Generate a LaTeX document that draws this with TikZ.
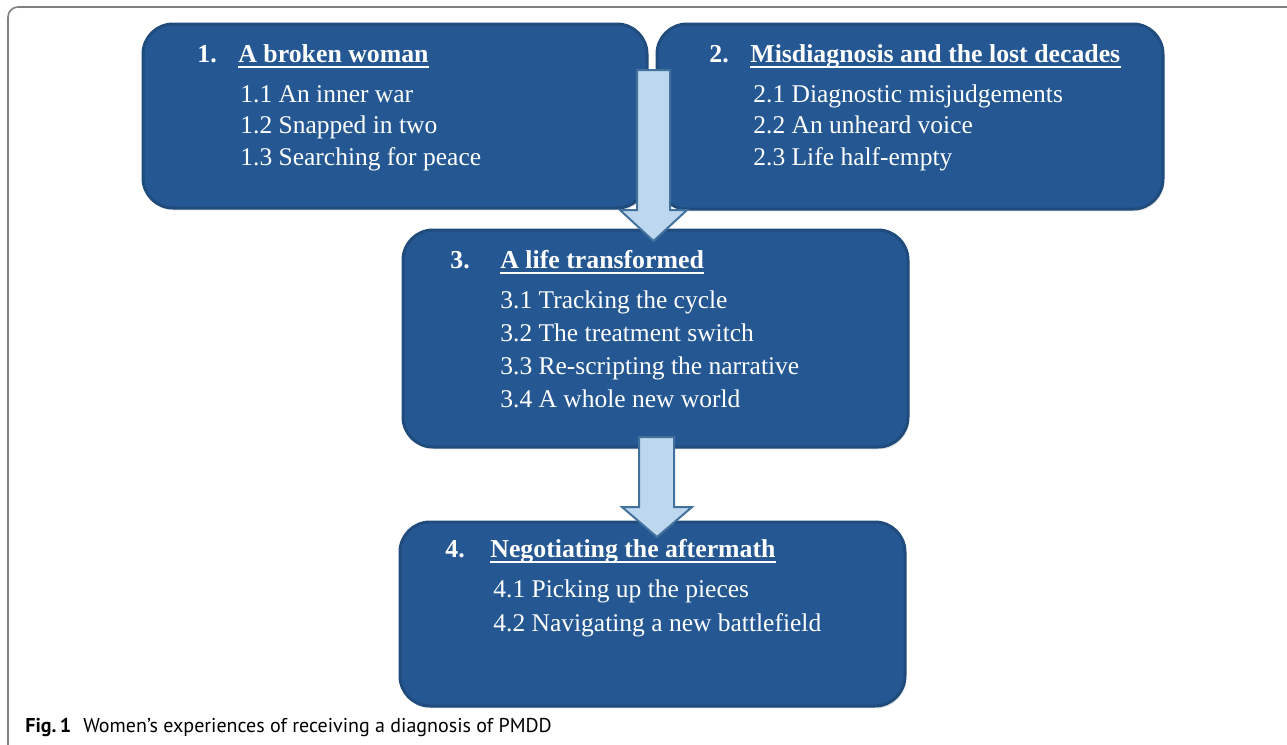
\documentclass[tikz,border=0pt]{standalone}
\usepackage{fontspec}
\setmainfont{Liberation Serif}
\newfontfamily\capfont{PT Sans}
\usetikzlibrary{shadows}
\definecolor{boxfill}{RGB}{37,88,147}
\definecolor{boxline}{RGB}{31,75,125}
\definecolor{arrfill}{RGB}{189,215,238}
\definecolor{arrline}{RGB}{65,113,156}
\definecolor{framegray}{RGB}{128,128,128}
\tikzset{
  box/.style={draw=boxline, fill=boxfill, line width=1.5pt, rounded corners=15pt,
    drop shadow={shadow xshift=0.6pt, shadow yshift=-1.2pt, opacity=0.25}},
  txt/.style={text=white, inner sep=0pt, anchor=base west, font=\fontsize{12.75}{15}\selectfont},
  ttl/.style={txt, font=\fontsize{12.9}{15}\selectfont\bfseries},
  uline/.style={white, line width=1pt},
  blockarrow/.style={draw=arrline, fill=arrfill, line width=1pt, line join=miter},
  captext/.style={inner sep=0pt, anchor=base west, font=\capfont\fontsize{10}{12}\selectfont}
}
\begin{document}
\begin{tikzpicture}[x=0.5pt, y=-0.5pt]
\useasboundingbox (0,0) rectangle (1287,745);
% outer frame
\draw[framegray, line width=0.8pt, rounded corners=5pt] (1295,7) -- (8,7) -- (8,752);

% boxes
\node[box, minimum width=252pt, minimum height=92pt] (b1) at (395,116) {};
\node[box, minimum width=253pt, minimum height=92.5pt] (b2) at (910,116.5) {};
\node[box, minimum width=252.5pt, minimum height=108.5pt] (b3) at (655.5,338.5) {};
\node[box, minimum width=252.5pt, minimum height=92pt] (b4) at (652.5,614) {};

% box 1 text
\node[ttl] (n1) at (197,62) {1.};
\node[ttl] (t1) at (238,62) {A broken woman};
\draw[uline] ([yshift=-2.4pt]t1.base west) -- ([yshift=-2.4pt]t1.base east);
\node[txt] (s11) at (240,102) {1.1 An inner war};
\node[txt] (s12) at (240,133.5) {1.2 Snapped in two};
\node[txt] (s13) at (240,165) {1.3 Searching for peace};

% box 2 text
\node[ttl] (n2) at (709,62) {2.};
\node[ttl] (t2) at (750,62) {Misdiagnosis and the lost decades};
\draw[uline] ([yshift=-2.4pt]t2.base west) -- ([yshift=-2.4pt]t2.base east);
\node[txt] (s21) at (753,102) {2.1 Diagnostic misjudgements};
\node[txt] (s22) at (753,133.5) {2.2 An unheard voice};
\node[txt] (s23) at (753,165) {2.3 Life half-empty};

% box 3 text
\node[ttl] (n3) at (450,268) {3.};
\node[ttl] (t3) at (500,268) {A life transformed};
\draw[uline] ([yshift=-2.4pt]t3.base west) -- ([yshift=-2.4pt]t3.base east);
\node[txt] (s31) at (500,308) {3.1 Tracking the cycle};
\node[txt] (s32) at (500,341) {3.2 The treatment switch};
\node[txt] (s33) at (500,374) {3.3 Re-scripting the narrative};
\node[txt] (s34) at (500,407) {3.4 A whole new world};

% box 4 text
\node[ttl] (n4) at (445,557) {4.};
\node[ttl] (t4) at (490,557) {Negotiating the aftermath};
\draw[uline] ([yshift=-2.6pt]t4.base west) -- ([yshift=-2.6pt]t4.base east);
\node[txt] (s41) at (493,597) {4.1 Picking up the pieces};
\node[txt] (s42) at (493,631) {4.2 Navigating a new battlefield};

% block arrows
\draw[blockarrow] (637,70) -- (670,70) -- (670,210) -- (687,210) -- (653.5,241)
  -- (620,210) -- (637,210) -- cycle;
\draw[blockarrow] (639,437) -- (674,437) -- (674,507) -- (692,507) -- (657,537)
  -- (622,507) -- (639,507) -- cycle;

% caption
\node[captext] (caption) at (25,732) {\textbf{Fig.\,1}\hspace{0.6em}Women’s experiences of receiving a diagnosis of PMDD};
\end{tikzpicture}
\end{document}
